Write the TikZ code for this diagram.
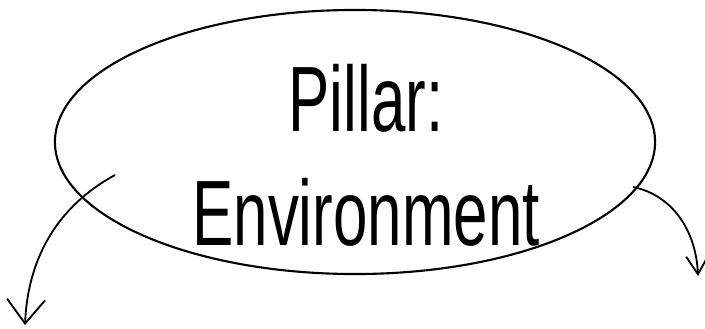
\documentclass[tikz,border=0pt]{standalone}
\usepackage{fontspec}
\setmainfont{Liberation Sans}
\usetikzlibrary{arrows.meta, shapes.geometric}

\newcommand{\tallwords}[1]{\scalebox{1}[1.5]{\begin{tabular}{@{}c@{}}#1\end{tabular}}}

\begin{document}
\begin{tikzpicture}[
  x=0.025cm, y=-0.025cm,
  pillarbox/.style={ellipse, draw, line width=1.5pt,
                    minimum width=15cm, minimum height=6.6cm, inner sep=0pt},
  titletext/.style={inner sep=0pt, font=\fontsize{44}{54}\selectfont},
  bigarr/.style={line width=1.3pt, -{Straight Barb[length=0.6cm, width=0.95cm, line width=1.3pt]}},
  smallarr/.style={line width=1.3pt, -{Straight Barb[length=0.45cm, width=0.55cm, line width=1.3pt]}}
]
  \useasboundingbox (0,0) rectangle (705,329);

  % the pillar
  \node[pillarbox] (pillar) at (355,142) {};
  \node[titletext] (title) at (366,166) {\tallwords{Pillar:\\Environment}};

  % free ends of the two arrows
  \coordinate (lstart) at (115,175);
  \coordinate (lend)   at (25,325);
  \coordinate (rstart) at (633,187);
  \coordinate (rend)   at (698,276);

  \draw[bigarr] (lstart) .. controls (60,205) and (28,255) .. (lend);
  \draw[smallarr] (rstart) .. controls (672,195) and (696,230) .. (rend);
\end{tikzpicture}
\end{document}
